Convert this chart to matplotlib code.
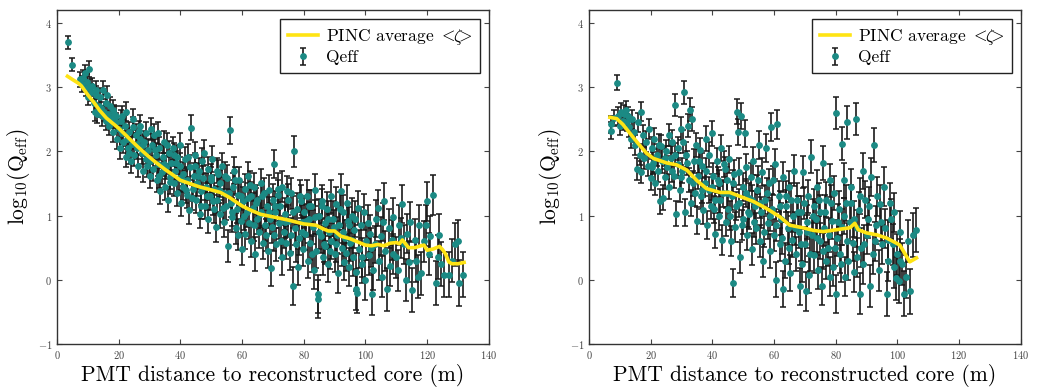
import matplotlib.pyplot as plt

# PINC average <zeta> curves
pinc_left_x = [3.4, 5, 7, 7.9, 10, 12, 13.8, 16, 18, 20, 23, 26, 29, 32, 35, 38, 40, 43, 46, 50, 53,
               56, 60, 63, 66, 70, 75, 80, 84, 86, 88, 90, 92, 95, 98, 100, 102, 104, 106, 108, 110,
               111, 112, 114, 116, 118, 119, 120, 122, 124, 125, 126, 127, 128, 130, 132]
pinc_left_y = [3.17, 3.12, 3.06, 3.02, 2.88, 2.76, 2.64, 2.52, 2.44, 2.36, 2.22, 2.08, 1.95, 1.83,
               1.72, 1.62, 1.55, 1.50, 1.45, 1.40, 1.36, 1.28, 1.15, 1.08, 1.02, 0.98, 0.93, 0.87,
               0.85, 0.80, 0.76, 0.76, 0.68, 0.64, 0.58, 0.54, 0.53, 0.55, 0.53, 0.57, 0.58, 0.56,
               0.62, 0.50, 0.50, 0.53, 0.54, 0.46, 0.48, 0.52, 0.47, 0.40, 0.28, 0.25, 0.25, 0.27]

pinc_right_x = [6.8, 9, 11, 13.3, 16, 18.7, 20.9, 25.2, 28.4, 31.7, 34.9, 38.1, 42.5, 45.7, 48.9,
                53.3, 57.6, 61.9, 65.1, 69.4, 72.7, 75.9, 80.3, 84.6, 86.2, 87.3, 90, 93.3, 96.5,
                99.7, 100.8, 103, 104, 106.2]
pinc_right_y = [2.53, 2.51, 2.42, 2.28, 2.12, 1.97, 1.89, 1.82, 1.79, 1.71, 1.55, 1.42, 1.36, 1.36,
                1.30, 1.22, 1.11, 0.98, 0.85, 0.81, 0.77, 0.75, 0.78, 0.81, 0.88, 0.78, 0.73, 0.70,
                0.65, 0.57, 0.54, 0.36, 0.28, 0.34]

# Qeff measurements, left event
qeff_left_x = [3.5, 5.0, 7.5, 8.0, 8.5, 9.0, 9.3, 9.8, 10.2, 10.5, 10.8, 11.0, 11.5, 12.0, 12.3,
               12.8, 13.0, 13.5, 14.0, 14.5, 15.0, 15.3, 15.8, 16.0, 16.5, 17.0, 17.3, 17.8, 18.0,
               18.5, 19.0, 19.5, 20.0, 20.3, 20.8, 21.0, 21.5, 22.0, 22.3, 22.8, 23.0, 23.5, 24.0,
               24.3, 24.8, 25.0, 25.5, 26.0, 26.3, 26.8, 27.0, 27.5, 28.0, 28.3, 28.8, 29.0, 29.5,
               30.0, 30.3, 30.8, 31.0, 31.5, 32.0, 32.3, 32.8, 33.0, 33.5, 34.0, 34.3, 34.8, 35.0,
               35.5, 36.0, 36.3, 36.8, 37.0, 37.5, 38.0, 38.3, 38.8, 39.0, 39.5, 40.0, 40.3, 40.8,
               41.0, 41.5, 42.0, 42.3, 42.8, 43.0, 43.5, 44.0, 44.3, 44.8, 45.0, 45.5, 46.0, 46.3,
               46.8, 47.0, 47.5, 48.0, 48.3, 48.8, 49.0, 49.5, 50.0, 50.3, 50.8, 51.0, 51.5, 52.0,
               52.3, 52.8, 53.0, 53.5, 54.0, 54.3, 54.8, 55.0, 55.5, 56.0, 56.3, 56.8, 57.0, 57.5,
               58.0, 58.3, 58.8, 59.0, 59.5, 60.0, 60.3, 60.8, 61.0, 61.5, 62.0, 62.3, 62.8, 63.0,
               63.5, 64.0, 64.3, 64.8, 65.0, 65.5, 66.0, 66.3, 66.8, 67.0, 67.5, 68.0, 68.3, 68.8,
               69.0, 69.5, 70.0, 70.3, 70.5, 70.8, 71.0, 71.5, 72.0, 72.3, 72.8, 73.0, 73.5, 74.0,
               74.3, 74.8, 75.0, 75.5, 76.0, 76.5, 77.0, 77.3, 77.8, 78.0, 78.5, 79.0, 79.3, 79.8,
               80.0, 80.5, 81.0, 81.3, 81.8, 82.0, 82.5, 83.0, 83.3, 83.8, 84.0, 84.5, 84.7, 85.0,
               85.5, 86.0, 86.3, 86.8, 87.0, 87.5, 88.0, 88.3, 88.8, 89.0, 89.5, 90.0, 90.3, 90.8,
               91.0, 91.5, 92.0, 92.3, 92.8, 93.0, 93.5, 94.0, 94.3, 94.8, 95.0, 95.5, 96.0, 96.3,
               96.8, 97.0, 97.3, 97.5, 98.0, 98.5, 99.0, 99.5, 100.0, 100.3, 100.8, 101.0, 101.5,
               102.0, 102.5, 103.0, 103.5, 104.0, 104.5, 105.0, 105.5, 106.0, 106.5, 107.0, 107.5,
               108.0, 108.5, 109.0, 110.0, 110.5, 111.0, 112.0, 112.5, 113.0, 113.5, 114.0, 115.0,
               116.0, 117.0, 117.5, 118.0, 119.0, 120.0, 120.5, 121.0, 122.0, 123.0, 123.5, 124.0,
               124.5, 125.5, 127.0, 128.0, 129.0, 130.0, 130.5, 131.5]
qeff_left_y = [3.70, 3.35, 3.12, 3.05, 3.15, 3.22, 2.98, 3.08, 2.85, 3.28, 3.00, 2.92, 3.02, 2.75,
               2.62, 2.88, 2.58, 2.70, 2.85, 2.55, 2.95, 2.62, 2.48, 2.75, 2.58, 2.40, 2.70, 2.52,
               2.30, 2.58, 2.45, 2.20, 2.35, 2.05, 2.48, 2.28, 2.15, 2.40, 1.92, 2.20, 2.05, 2.30,
               1.85, 2.12, 2.38, 1.95, 2.25, 2.05, 1.78, 2.20, 2.40, 1.98, 1.70, 2.15, 1.88, 2.28,
               2.02, 1.62, 1.85, 2.10, 1.72, 2.25, 1.95, 1.55, 1.80, 2.05, 1.38, 1.68, 1.92, 2.15,
               1.45, 1.75, 1.25, 1.98, 1.60, 1.82, 2.05, 1.50, 1.70, 1.35, 1.92, 1.58, 1.78, 1.20,
               1.45, 1.65, 1.88, 1.32, 1.55, 1.08, 1.75, 2.37, 1.42, 1.62, 1.95, 1.25, 1.50, 1.70,
               1.02, 1.38, 1.85, 1.58, 1.15, 1.45, 1.72, 0.95, 1.30, 1.60, 1.88, 1.10, 1.42, 0.82,
               1.25, 1.65, 1.02, 1.50, 1.78, 0.90, 1.35, 1.15, 1.58, 0.52, 2.33, 1.20, 0.98, 1.45,
               1.70, 0.80, 1.10, 1.32, 1.55, 0.92, 0.48, 1.22, 1.42, 0.72, 1.05, 1.62, 0.88, 1.30,
               0.60, 1.12, 1.45, 0.40, 0.95, 1.25, 0.75, 1.50, 1.05, 0.58, 1.35, 0.85, 1.15, 0.45,
               1.40, 0.95, 0.18, 1.25, 0.70, 1.80, 1.05, 0.55, 1.32, 0.88, 1.15, 0.35, 1.45, 0.75,
               1.02, 0.58, 1.25, 0.92, 0.42, 1.35, -0.10, 2.00, 0.80, 1.10, 0.20, 0.65, 1.22, 0.90,
               0.48, 1.05, 0.72, 1.30, 0.30, 0.95, 0.58, 1.15, 0.82, 0.15, 1.40, 0.45, -0.22, -0.30,
               1.00, 0.68, 1.22, 0.35, 0.88, 0.52, 1.10, 0.25, 0.75, 1.30, 0.60, 0.95, 0.40, 1.18,
               0.70, 0.10, 0.85, 1.38, 0.50, 1.05, 0.28, 0.65, 1.20, 0.92, 0.20, 0.58, 1.00, 0.35,
               0.78, -0.15, 0.12, -0.20, 1.12, 0.48, 0.85, 0.25, 1.05, 0.00, 0.60, 0.88, 0.38, 0.72,
               -0.22, 0.15, 0.55, 0.95, 1.12, 0.30, 0.68, 0.05, 1.22, 0.45, -0.15, 0.80, 0.22, 0.62,
               0.98, 0.35, 0.15, 0.85, 1.18, 0.55, 0.00, 0.72, 0.28, -0.16, 0.62, 0.05, 0.85, 0.10,
               0.60, 1.22, 0.40, 0.68, 1.32, -0.05, 0.35, 0.70, 0.25, 0.08, 0.08, 0.30, 0.55, 0.60,
               -0.05, 0.08]
qeff_left_err = [0.10, 0.10, 0.12, 0.12, 0.12, 0.12, 0.12, 0.13, 0.13, 0.12, 0.13, 0.13, 0.13, 0.14,
                 0.14, 0.14, 0.14, 0.14, 0.14, 0.15, 0.14, 0.15, 0.15, 0.15, 0.15, 0.15, 0.15, 0.15,
                 0.16, 0.15, 0.15, 0.16, 0.16, 0.17, 0.16, 0.16, 0.17, 0.16, 0.17, 0.17, 0.17, 0.16,
                 0.18, 0.17, 0.16, 0.17, 0.17, 0.17, 0.18, 0.17, 0.16, 0.17, 0.18, 0.17, 0.18, 0.17,
                 0.17, 0.19, 0.18, 0.17, 0.18, 0.17, 0.18, 0.19, 0.18, 0.17, 0.20, 0.19, 0.18, 0.17,
                 0.20, 0.18, 0.20, 0.18, 0.19, 0.18, 0.18, 0.19, 0.19, 0.20, 0.18, 0.19, 0.19, 0.20,
                 0.20, 0.19, 0.19, 0.20, 0.20, 0.21, 0.19, 0.20, 0.20, 0.20, 0.19, 0.21, 0.20, 0.20,
                 0.22, 0.21, 0.20, 0.20, 0.21, 0.21, 0.20, 0.22, 0.21, 0.20, 0.20, 0.22, 0.21, 0.23,
                 0.21, 0.21, 0.22, 0.21, 0.20, 0.23, 0.21, 0.22, 0.21, 0.25, 0.21, 0.22, 0.23, 0.21,
                 0.21, 0.24, 0.22, 0.22, 0.21, 0.23, 0.25, 0.22, 0.22, 0.24, 0.23, 0.22, 0.24, 0.22,
                 0.25, 0.23, 0.22, 0.26, 0.24, 0.23, 0.25, 0.22, 0.24, 0.25, 0.23, 0.24, 0.24, 0.26,
                 0.23, 0.24, 0.28, 0.24, 0.25, 0.22, 0.24, 0.26, 0.24, 0.25, 0.24, 0.27, 0.24, 0.25,
                 0.25, 0.26, 0.24, 0.25, 0.27, 0.24, 0.30, 0.24, 0.26, 0.25, 0.28, 0.26, 0.25, 0.26,
                 0.27, 0.25, 0.26, 0.25, 0.28, 0.26, 0.27, 0.25, 0.26, 0.29, 0.25, 0.27, 0.30, 0.30,
                 0.26, 0.27, 0.26, 0.28, 0.27, 0.28, 0.26, 0.29, 0.27, 0.26, 0.28, 0.27, 0.28, 0.26,
                 0.28, 0.30, 0.27, 0.26, 0.28, 0.27, 0.29, 0.28, 0.27, 0.27, 0.30, 0.28, 0.27, 0.29,
                 0.28, 0.32, 0.30, 0.32, 0.27, 0.29, 0.28, 0.30, 0.28, 0.31, 0.29, 0.28, 0.30, 0.29,
                 0.33, 0.31, 0.29, 0.29, 0.28, 0.31, 0.30, 0.32, 0.29, 0.31, 0.33, 0.30, 0.32, 0.31,
                 0.30, 0.32, 0.32, 0.31, 0.30, 0.31, 0.33, 0.31, 0.32, 0.34, 0.32, 0.33, 0.32, 0.33,
                 0.32, 0.31, 0.33, 0.32, 0.31, 0.35, 0.34, 0.33, 0.34, 0.35, 0.35, 0.34, 0.33, 0.33,
                 0.36, 0.35]

# more PMTs inside the dense band of the left event
qeff_left_x2 = [12.5, 14.2, 16.2, 18.2, 19.2, 21.2, 22.5, 23.2, 24.6, 25.8, 26.6, 27.8, 29.3, 30.5,
                31.8, 32.6, 33.2, 34.6, 35.8, 36.6, 37.8, 38.6, 39.8, 40.6, 41.8, 42.6, 43.8, 44.6,
                45.8, 46.6, 47.8, 48.6, 49.8, 50.6, 51.8, 52.6, 53.8, 54.6, 55.8, 56.6, 57.8, 58.6,
                59.8, 60.6, 61.8, 62.6, 63.8, 64.6, 65.8, 66.6, 67.8, 68.6, 69.8, 70.6, 71.8, 72.6,
                73.8, 74.6, 75.8, 76.6, 77.6, 78.8, 79.6, 80.8, 81.6, 82.8, 83.6, 84.8, 85.8, 86.6,
                87.8, 88.6, 89.8, 90.6, 91.8, 92.6, 93.8, 94.6, 95.8, 96.6, 98.8, 101.8, 105.8,
                108.8, 111.5, 114.5, 116.5, 119.5]
qeff_left_y2 = [2.95, 2.68, 2.88, 2.65, 2.55, 2.55, 2.62, 1.98, 2.50, 2.12, 2.32, 2.10, 1.78, 2.35,
                2.02, 2.28, 1.62, 1.80, 2.10, 1.52, 1.95, 1.82, 2.10, 1.55, 1.40, 1.92, 1.28, 1.78,
                1.62, 1.15, 1.98, 1.30, 1.55, 1.22, 1.70, 1.40, 1.12, 1.62, 1.35, 1.05, 1.55, 0.70,
                1.30, 1.00, 1.28, 1.48, 0.85, 1.20, 1.02, 1.30, 0.70, 1.05, 0.82, 1.15, 1.42, 0.60,
                0.90, 1.38, 0.70, 1.05, 0.55, 1.30, 0.75, 0.92, 1.15, 0.40, 0.98, 0.75, 1.15, 0.55,
                0.95, 0.45, 0.82, 0.55, 1.10, 0.75, 0.42, 0.85, 0.62, 0.95, 0.35, 0.50, 0.90, 0.40,
                0.65, 0.90, 0.30, 0.85]
qeff_left_err2 = [0.14, 0.14, 0.14, 0.15, 0.15, 0.15, 0.15, 0.17, 0.16, 0.17, 0.16, 0.17, 0.18,
                  0.17, 0.18, 0.17, 0.19, 0.18, 0.18, 0.19, 0.18, 0.18, 0.18, 0.19, 0.20, 0.19,
                  0.20, 0.19, 0.20, 0.21, 0.19, 0.21, 0.20, 0.21, 0.20, 0.21, 0.22, 0.21, 0.21,
                  0.22, 0.21, 0.24, 0.22, 0.23, 0.22, 0.22, 0.24, 0.23, 0.24, 0.23, 0.25, 0.24,
                  0.25, 0.24, 0.24, 0.26, 0.25, 0.24, 0.26, 0.25, 0.27, 0.25, 0.26, 0.26, 0.25,
                  0.28, 0.26, 0.27, 0.26, 0.28, 0.27, 0.28, 0.27, 0.28, 0.27, 0.28, 0.29, 0.28,
                  0.29, 0.28, 0.30, 0.30, 0.30, 0.31, 0.31, 0.31, 0.33, 0.32]

# Qeff measurements, right event
qeff_right_x = [7.0, 7.2, 8.0, 9.0, 9.5, 10.0, 10.5, 11.0, 11.5, 12.0, 12.3, 12.8, 13.0, 13.5, 14.0,
                14.5, 15.0, 15.5, 16.0, 16.5, 16.8, 17.0, 17.5, 18.0, 18.5, 19.0, 19.5, 20.0, 20.3,
                20.8, 21.0, 21.5, 22.0, 22.5, 23.0, 23.3, 23.8, 24.0, 24.5, 25.0, 25.3, 25.8, 26.0,
                26.5, 27.0, 27.5, 28.0, 28.3, 28.8, 29.0, 29.5, 30.0, 30.3, 30.8, 31.0, 31.5, 32.0,
                32.3, 32.8, 33.0, 33.5, 34.0, 34.3, 34.8, 35.0, 35.5, 36.0, 36.3, 36.8, 37.0, 37.5,
                38.0, 38.3, 38.8, 39.0, 39.5, 40.0, 40.3, 40.8, 41.0, 41.5, 42.0, 42.3, 42.8, 43.0,
                43.5, 44.0, 44.3, 44.8, 45.0, 45.5, 46.0, 46.3, 46.8, 47.0, 47.5, 48.0, 48.2, 48.5,
                49.0, 49.3, 49.8, 50.0, 50.5, 51.0, 51.3, 51.8, 52.0, 52.5, 53.0, 53.3, 53.8, 54.0,
                54.5, 55.0, 55.3, 55.8, 56.0, 56.5, 57.0, 57.5, 58.0, 58.3, 58.8, 59.0, 59.5, 60.0,
                60.3, 60.8, 61.0, 61.5, 62.0, 62.3, 62.8, 63.0, 63.5, 64.0, 64.5, 65.0, 65.3, 65.8,
                66.0, 66.5, 67.0, 67.5, 68.0, 68.3, 68.8, 69.0, 69.5, 70.0, 70.3, 70.8, 71.0, 71.5,
                72.0, 72.3, 72.8, 73.0, 73.5, 74.0, 74.3, 74.8, 75.0, 75.5, 76.0, 76.3, 76.8, 77.0,
                77.5, 78.0, 78.3, 78.8, 79.0, 79.5, 80.0, 80.2, 80.5, 81.0, 81.5, 82.0, 82.2, 82.8,
                83.0, 83.3, 83.8, 84.0, 84.5, 85.0, 85.5, 86.0, 86.5, 87.0, 87.5, 88.0, 88.3, 88.8,
                89.0, 89.5, 90.0, 90.5, 91.0, 91.5, 92.0, 92.5, 93.0, 93.5, 94.0, 94.5, 95.0, 95.5,
                96.0, 96.5, 97.0, 97.5, 98.0, 98.5, 99.0, 99.5, 100.0, 100.5, 101.0, 101.5, 102.0,
                102.8, 103.5, 104.0, 105.0, 106.0]
qeff_right_y = [2.32, 2.42, 2.52, 3.07, 2.55, 2.40, 2.62, 2.48, 2.58, 2.65, 2.45, 2.55, 2.38, 2.20,
                2.50, 2.30, 2.10, 1.72, 2.45, 1.95, 2.62, 1.68, 2.25, 1.90, 2.15, 1.78, 2.35, 1.58,
                2.05, 1.82, 2.20, 1.50, 1.95, 1.70, 1.22, 2.08, 1.85, 1.28, 1.60, 2.00, 1.75, 2.25,
                1.45, 1.90, 2.15, 1.62, 2.72, 1.03, 1.80, 2.05, 1.40, 2.35, 1.70, 2.92, 1.05, 1.95,
                2.40, 1.55, 2.65, 1.20, 2.50, 1.85, 1.35, 2.10, 0.92, 1.62, 2.02, 1.30, 1.78, 1.08,
                1.50, 2.20, 0.85, 1.40, 1.95, 1.15, 2.28, 1.62, 0.72, 1.25, 1.85, 1.00, 1.50, 2.05,
                0.62, 1.35, 1.72, 0.90, 1.55, 1.10, 1.88, 0.60, 1.30, -0.05, 1.65, 0.82, 2.62, 2.30,
                1.20, 0.35, 2.55, 1.45, 0.95, 2.28, 1.75, 0.70, 1.28, 1.02, 1.60, 0.48, 1.85, 1.15,
                0.80, 1.40, 2.10, 0.60, 1.05, 1.68, 0.30, 1.25, 2.05, 0.88, 1.50, 0.45, 2.38, 1.10,
                0.70, 1.80, 0.00, 2.42, 1.30, 0.55, 0.95, 1.60, -0.15, 0.30, 1.15, 0.80, 1.45, 0.10,
                0.62, 1.00, 1.70, 0.40, 1.25, 0.75, -0.10, 1.05, 0.25, 1.68, 0.55, -0.18, 0.90, 1.30,
                0.08, 1.92, 0.70, 1.15, 0.38, 0.95, 1.45, 0.15, 0.60, 1.05, -0.10, 1.82, 0.80, 0.30,
                1.25, 0.50, 1.55, 0.05, 0.92, 0.20, 1.35, 2.60, -0.22, 0.65, 1.10, 0.40, 2.12, 0.82,
                1.55, 0.05, 1.20, 2.45, 0.30, 0.90, 1.45, 0.58, 0.12, 2.50, 0.80, 1.08, -0.22, 0.50,
                1.70, 0.25, 1.25, 0.70, 0.95, -0.10, 1.60, 0.40, 2.10, 0.85, 1.30, 0.15, 1.18, 0.55,
                1.45, 0.80, -0.22, 0.30, 1.20, 0.95, 0.55, 0.20, 0.02, 0.40, -0.02, 0.75, 0.25,
                -0.22, 0.05, 0.60, -0.18, 0.70, 0.78]
qeff_right_err = [0.13, 0.13, 0.13, 0.12, 0.14, 0.14, 0.14, 0.14, 0.14, 0.14, 0.14, 0.14, 0.15, 0.15,
                  0.15, 0.15, 0.16, 0.17, 0.15, 0.16, 0.15, 0.17, 0.16, 0.17, 0.16, 0.17, 0.16, 0.18,
                  0.17, 0.17, 0.17, 0.18, 0.17, 0.18, 0.19, 0.17, 0.18, 0.19, 0.18, 0.18, 0.18, 0.17,
                  0.19, 0.18, 0.18, 0.19, 0.17, 0.20, 0.18, 0.18, 0.19, 0.18, 0.19, 0.18, 0.21, 0.19,
                  0.18, 0.19, 0.18, 0.20, 0.19, 0.19, 0.20, 0.19, 0.21, 0.20, 0.19, 0.20, 0.20, 0.21,
                  0.20, 0.19, 0.22, 0.20, 0.20, 0.21, 0.19, 0.20, 0.22, 0.21, 0.20, 0.22, 0.21, 0.20,
                  0.23, 0.21, 0.20, 0.22, 0.21, 0.22, 0.21, 0.23, 0.22, 0.22, 0.21, 0.23, 0.20, 0.20,
                  0.22, 0.24, 0.20, 0.22, 0.23, 0.21, 0.21, 0.24, 0.22, 0.23, 0.22, 0.25, 0.22, 0.23,
                  0.24, 0.23, 0.22, 0.25, 0.24, 0.22, 0.26, 0.23, 0.22, 0.24, 0.23, 0.26, 0.22, 0.24,
                  0.25, 0.23, 0.27, 0.22, 0.24, 0.26, 0.25, 0.24, 0.28, 0.27, 0.25, 0.26, 0.24, 0.28,
                  0.26, 0.25, 0.24, 0.27, 0.25, 0.26, 0.29, 0.26, 0.28, 0.25, 0.27, 0.30, 0.26, 0.26,
                  0.29, 0.25, 0.27, 0.26, 0.28, 0.27, 0.26, 0.29, 0.28, 0.27, 0.30, 0.26, 0.27, 0.29,
                  0.27, 0.28, 0.26, 0.30, 0.28, 0.29, 0.27, 0.25, 0.30, 0.28, 0.28, 0.29, 0.26, 0.28,
                  0.27, 0.31, 0.28, 0.26, 0.30, 0.29, 0.28, 0.29, 0.31, 0.25, 0.29, 0.29, 0.32, 0.30,
                  0.28, 0.31, 0.29, 0.30, 0.30, 0.33, 0.29, 0.31, 0.27, 0.30, 0.30, 0.32, 0.30, 0.31,
                  0.30, 0.31, 0.34, 0.32, 0.30, 0.31, 0.32, 0.33, 0.33, 0.32, 0.34, 0.32, 0.33,
                  0.35, 0.34, 0.33, 0.35, 0.34, 0.34]

# more PMTs inside the dense band of the right event
qeff_right_x2 = [20.5, 22.8, 24.8, 26.8, 27.8, 29.8, 30.6, 31.8, 33.8, 35.8, 36.6, 37.8, 39.8, 40.6,
                 41.8, 42.6, 43.8, 44.6, 45.8, 46.6, 47.8, 48.8, 49.6, 50.8, 51.6, 52.8, 53.6, 54.8,
                 55.6, 56.8, 57.8, 58.6, 59.8, 60.6, 61.8, 62.6, 63.8, 64.8, 65.6, 66.8, 67.8, 68.6,
                 69.8, 70.6, 71.8, 72.6, 73.8, 74.6, 75.8, 76.6, 77.8, 78.6, 79.8, 80.8, 81.8, 82.6,
                 83.6, 84.8, 85.8, 86.8, 87.8, 89.3, 90.8, 92.8, 94.8, 96.8, 98.8, 100.8]
qeff_right_y2 = [1.75, 2.10, 1.90, 1.70, 1.95, 1.60, 2.15, 1.82, 1.50, 1.85, 1.40, 1.70, 1.45, 1.10,
                 1.55, 1.25, 1.80, 1.35, 1.00, 1.50, 1.15, 1.68, 0.85, 1.35, 1.05, 1.25, 0.90, 1.55,
                 1.20, 0.75, 1.35, 1.00, 1.55, 0.85, 1.15, 0.65, 1.30, 0.50, 1.25, 0.80, 1.05, 0.55,
                 1.20, 0.75, 0.40, 1.00, 0.65, 1.25, 0.45, 1.05, 0.70, 1.20, 0.50, 0.90, 0.25, 1.00,
                 0.60, 1.20, 0.95, 0.35, 1.30, 0.55, 1.15, 0.60, 0.90, 0.62, 1.05, 0.30]
qeff_right_err2 = [0.17, 0.17, 0.18, 0.18, 0.18, 0.19, 0.18, 0.19, 0.19, 0.19, 0.20, 0.20, 0.20,
                   0.21, 0.20, 0.21, 0.20, 0.21, 0.22, 0.21, 0.22, 0.21, 0.23, 0.22, 0.23, 0.22,
                   0.23, 0.22, 0.23, 0.24, 0.23, 0.24, 0.23, 0.25, 0.24, 0.25, 0.24, 0.26, 0.25,
                   0.26, 0.25, 0.26, 0.25, 0.26, 0.27, 0.26, 0.27, 0.26, 0.28, 0.27, 0.27, 0.27,
                   0.28, 0.28, 0.29, 0.28, 0.29, 0.28, 0.28, 0.30, 0.28, 0.30, 0.29, 0.30, 0.30,
                   0.31, 0.30, 0.33]

plt.rcParams['font.family'] = 'cmr10'
plt.rcParams['mathtext.fontset'] = 'cm'
plt.rcParams['axes.formatter.use_mathtext'] = True

teal = '#1b8a84'
yellow = '#ffe414'

fig = plt.figure(figsize=(10.38, 3.9), dpi=100)
ax1 = fig.add_axes([0.0549, 0.118, 0.416, 0.856])
ax2 = fig.add_axes([0.5674, 0.118, 0.416, 0.856])

panels = [(ax1, pinc_left_x, pinc_left_y,
           qeff_left_x + qeff_left_x2, qeff_left_y + qeff_left_y2, qeff_left_err + qeff_left_err2),
          (ax2, pinc_right_x, pinc_right_y,
           qeff_right_x + qeff_right_x2, qeff_right_y + qeff_right_y2, qeff_right_err + qeff_right_err2)]

for ax, px, py, qx, qy, qe in panels:
    ax.plot(px, py, color=yellow, lw=2.6, label=r'PINC average $<\!\!\zeta\!\!>$', zorder=3)
    ax.errorbar(qx, qy, yerr=qe, fmt='o', color=teal, markersize=3.9,
                ecolor='#1a1a1a', elinewidth=1.2, capsize=2.4, capthick=1.1,
                label='Qeff', zorder=2)
    ax.set_xlim(0, 140)
    ax.set_ylim(-1, 4.2)
    ax.set_xticks(range(0, 141, 20))
    ax.set_yticks(range(-1, 5))
    ax.tick_params(direction='in', top=True, right=True, labelsize=7.5,
                   labelcolor='#444444', length=3.5, width=0.8, colors='#444444')
    for s in ax.spines.values():
        s.set_color('#333333')
        s.set_linewidth(1.0)
    ax.set_xlabel('PMT distance to reconstructed core (m)', fontsize=15.5, labelpad=2)
    ax.set_ylabel(r'$\mathrm{log}_{10}(\mathrm{Q}_{\mathrm{eff}})$', fontsize=15.5, labelpad=4)
    leg = ax.legend(loc='upper right', fontsize=12.5, fancybox=False, framealpha=1,
                    edgecolor='#222222', handlelength=1.7, handletextpad=0.45,
                    labelspacing=0.2, borderpad=0.45, borderaxespad=0.5)
    leg.get_frame().set_linewidth(1.0)

fig.savefig('out.png', dpi=100)
